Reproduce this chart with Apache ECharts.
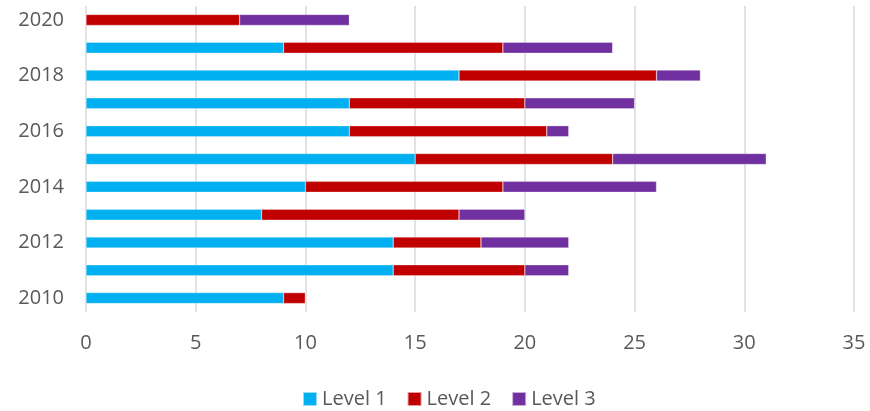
<!DOCTYPE html>
<html>
<head>
<meta charset="utf-8">
<script src="https://cdn.jsdelivr.net/npm/echarts@6/dist/echarts.min.js"></script>
<style>
  html, body { margin: 0; padding: 0; background: #fff; }
  #chart { width: 870px; height: 411px; }
</style>
</head>
<body>
<div id="chart"></div>
<script>
// Years on the category axis (bottom to top)
const years = ['2010', '2011', '2012', '2013', '2014', '2015', '2016', '2017', '2018', '2019', '2020'];
// Counts per level for each year
const level1 = [9, 14, 14, 8, 10, 15, 12, 12, 17, 9, 0];
const level2 = [1, 6, 4, 9, 9, 9, 9, 8, 9, 10, 7];
const level3 = [0, 2, 4, 3, 7, 7, 1, 5, 2, 5, 5];
const seriesNames = ['Level 1', 'Level 2', 'Level 3'];
const seriesColors = ['#00B0F0', '#C00000', '#7030A0'];

const font = '"Open Sans", "Liberation Sans", sans-serif';
const textColor = '#595959';

const chart = echarts.init(document.getElementById('chart'));

const values = [level1, level2, level3];
chart.setOption({
  animation: false,
  textStyle: { fontFamily: font },
  grid: { left: 86, right: 16, top: 6, bottom: 99, containLabel: false },
  legend: {
    data: seriesNames,
    left: 297,
    top: 384,
    itemWidth: 14,
    itemHeight: 14,
    itemGap: 20,
    icon: 'rect',
    textStyle: { fontFamily: font, fontSize: 20, color: textColor }
  },
  xAxis: {
    type: 'value',
    min: 0,
    max: 35,
    interval: 5,
    axisLine: { show: false },
    axisTick: { show: false },
    splitLine: { lineStyle: { color: '#d9d9d9', width: 1.5 } },
    axisLabel: { fontFamily: font, fontSize: 20, color: textColor, margin: 21 }
  },
  yAxis: {
    type: 'category',
    data: years,
    axisLine: { show: false },
    axisTick: { show: false },
    axisLabel: { interval: 1, fontFamily: font, fontSize: 20, color: textColor, margin: 22 }
  },
  series: seriesNames.map((name, i) => ({
    name: name,
    type: 'bar',
    stack: 'total',
    barWidth: 11,
    data: values[i],
    itemStyle: { color: seriesColors[i], borderColor: 'rgba(255,255,255,0.6)', borderWidth: 0.5 }
  }))
});
</script>
</body>
</html>
